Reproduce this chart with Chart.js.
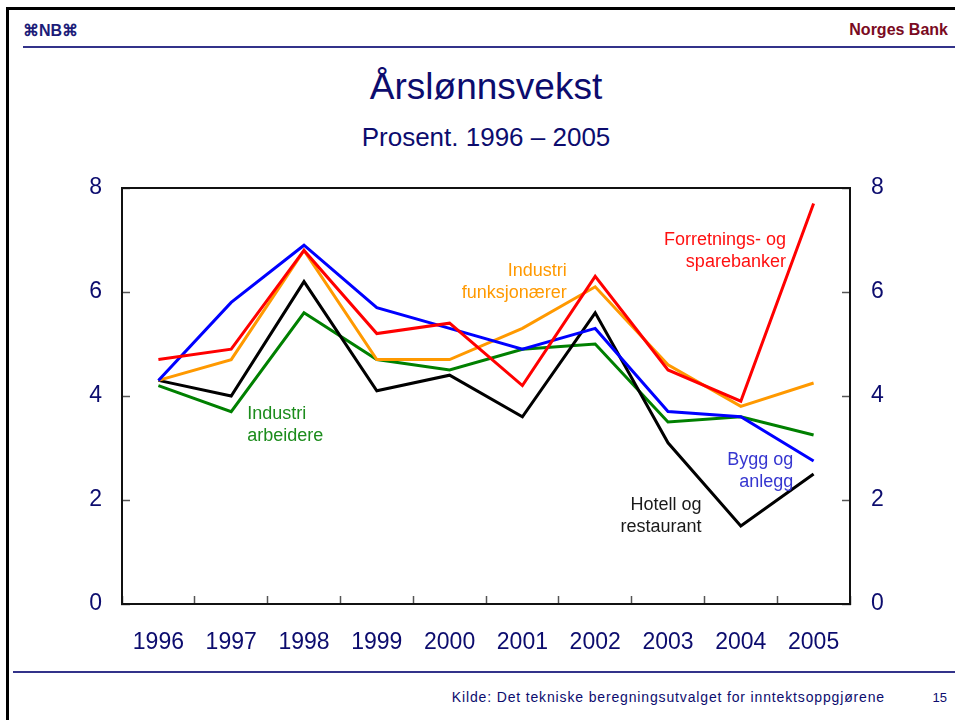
<!DOCTYPE html>
<html>
<head>
<meta charset="utf-8">
<script src="https://cdn.jsdelivr.net/npm/chart.js@4.4.1/dist/chart.umd.min.js"></script>
<style>
  body { margin: 0; background: #fff; font-family: "Liberation Sans", Arial, sans-serif; }
  .page { position: relative; width: 955px; height: 720px; overflow: hidden; }
  .frame { position: absolute; left: 6px; top: 7px; width: 1000px; height: 800px; border: 3px solid #000; }
  .line { position: absolute; height: 2px; background: #33338a; }
  .txt { position: absolute; white-space: nowrap; }
  canvas { position: absolute; left: 0; top: 0; }
</style>
</head>
<body>
<div class="page">
  <div class="frame"></div>
  <div class="txt" style="left:23px; top:21px; font-size:16px; font-weight:bold; color:#1c1c78;">⌘NB⌘</div>
  <div class="txt" style="right:7px; top:21px; font-size:16px; font-weight:bold; color:#7a0a22;">Norges Bank</div>
  <div class="line" style="left:23px; top:46px; width:940px;"></div>
  <div class="txt" style="left:286px; width:400px; text-align:center; top:66px; font-size:37px; color:#0c0c6e;">Årslønnsvekst</div>
  <div class="txt" style="left:286px; width:400px; text-align:center; top:122px; font-size:26px; color:#0c0c6e;">Prosent. 1996 – 2005</div>
  <div class="line" style="left:13px; top:671px; width:950px;"></div>
  <div class="txt" style="right:70px; top:689px; font-size:14px; letter-spacing:0.85px; color:#0c0c6e;">Kilde: Det tekniske beregningsutvalget for inntektsoppgjørene</div>
  <div class="txt" style="right:8px; top:690px; font-size:13px; color:#0c0c6e;">15</div>
  <canvas id="chart" width="955" height="720"></canvas>
</div>
<script>
const years = ["1996", "1997", "1998", "1999", "2000", "2001", "2002", "2003", "2004", "2005"];
const yTicks = [0, 2, 4, 6, 8];

const bankValues = [4.7, 4.9, 6.8, 5.2, 5.4, 4.2, 6.3, 4.5, 3.9, 7.7];
const byggValues = [4.3, 5.8, 6.9, 5.7, 5.3, 4.9, 5.3, 3.7, 3.6, 2.75];
const funksjonaerValues = [4.3, 4.7, 6.8, 4.7, 4.7, 5.3, 6.1, 4.6, 3.8, 4.25];
const hotellValues = [4.3, 4.0, 6.2, 4.1, 4.4, 3.6, 5.6, 3.1, 1.5, 2.5];
const arbeiderValues = [4.2, 3.7, 5.6, 4.7, 4.5, 4.9, 5.0, 3.5, 3.6, 3.25];

const navy = "#0c0c6e";

// labels placed in data units (category index, value)
const seriesLabels = [
  { lines: ["Forretnings- og", "sparebanker"], x: 8.62, y: 6.99, align: "right", color: "#ff1010" },
  { lines: ["Industri", "funksjonærer"], x: 5.61, y: 6.41, align: "right", color: "#ff9900" },
  { lines: ["Industri", "arbeidere"], x: 1.22, y: 3.65, align: "left", color: "#1b8c1b" },
  { lines: ["Bygg og", "anlegg"], x: 8.72, y: 2.77, align: "right", color: "#3636d0" },
  { lines: ["Hotell og", "restaurant"], x: 7.46, y: 1.9, align: "right", color: "#1a1a1a" },
];

const labelPlugin = {
  id: "seriesLabels",
  afterDatasetsDraw(chart) {
    const ctx = chart.ctx;
    const xs = chart.scales.x;
    const ys = chart.scales.y;
    const area = chart.chartArea;
    ctx.save();
    // top edge of the plot box
    ctx.strokeStyle = "#111";
    ctx.lineWidth = 2;
    ctx.beginPath();
    ctx.moveTo(area.left, area.top);
    ctx.lineTo(area.right, area.top);
    ctx.stroke();

    ctx.font = "18px 'Liberation Sans', Arial, sans-serif";
    ctx.textBaseline = "middle";
    seriesLabels.forEach((lab) => {
      const px = xs.getPixelForValue(lab.x);
      const py = ys.getPixelForValue(lab.y);
      ctx.fillStyle = lab.color;
      ctx.textAlign = lab.align;
      lab.lines.forEach((t, i) => {
        ctx.fillText(t, px, py + i * 22);
      });
    });
    ctx.restore();
  },
};

const mkLine = (label, data, color) => ({
  label: label,
  data: data,
  borderColor: color,
  borderWidth: 3,
  pointRadius: 0,
  tension: 0,
  fill: false,
});

const yAxis = (position, width, padding) => ({
  position: position,
  min: yTicks[0],
  max: yTicks[yTicks.length - 1],
  afterBuildTicks: (scale) => {
    scale.ticks = yTicks.map((v) => ({ value: v }));
  },
  ticks: { color: navy, font: { size: 23 }, padding: padding },
  grid: { drawOnChartArea: false, tickLength: -8, tickColor: "#555", tickWidth: 1.5 },
  border: { color: "#111", width: 2 },
  afterFit: (scale) => {
    scale.width = width;
  },
});

Chart.defaults.font.family = "'Liberation Sans', Arial, sans-serif";

new Chart(document.getElementById("chart").getContext("2d"), {
  type: "line",
  data: {
    labels: years,
    datasets: [
      mkLine("Forretnings- og sparebanker", bankValues, "#ff0000"),
      mkLine("Bygg og anlegg", byggValues, "#0000ff"),
      mkLine("Industri funksjonærer", funksjonaerValues, "#ff9900"),
      mkLine("Hotell og restaurant", hotellValues, "#000000"),
      mkLine("Industri arbeidere", arbeiderValues, "#008000"),
    ],
  },
  options: {
    responsive: false,
    animation: false,
    layout: { padding: { top: 188, left: 0, right: 0, bottom: 0 } },
    plugins: { legend: { display: false }, tooltip: { enabled: false } },
    scales: {
      x: {
        type: "category",
        offset: true,
        ticks: { color: navy, font: { size: 23 }, padding: 33, maxRotation: 0, autoSkip: false },
        grid: { offset: true, drawOnChartArea: false, tickLength: -8, tickColor: "#555", tickWidth: 1.5 },
        border: { color: "#111", width: 2 },
        afterFit: (scale) => {
          scale.height = 116;
        },
      },
      y: yAxis("left", 122, 28),
      y2: yAxis("right", 105, 29),
    },
  },
  plugins: [labelPlugin],
});
</script>
</body>
</html>
